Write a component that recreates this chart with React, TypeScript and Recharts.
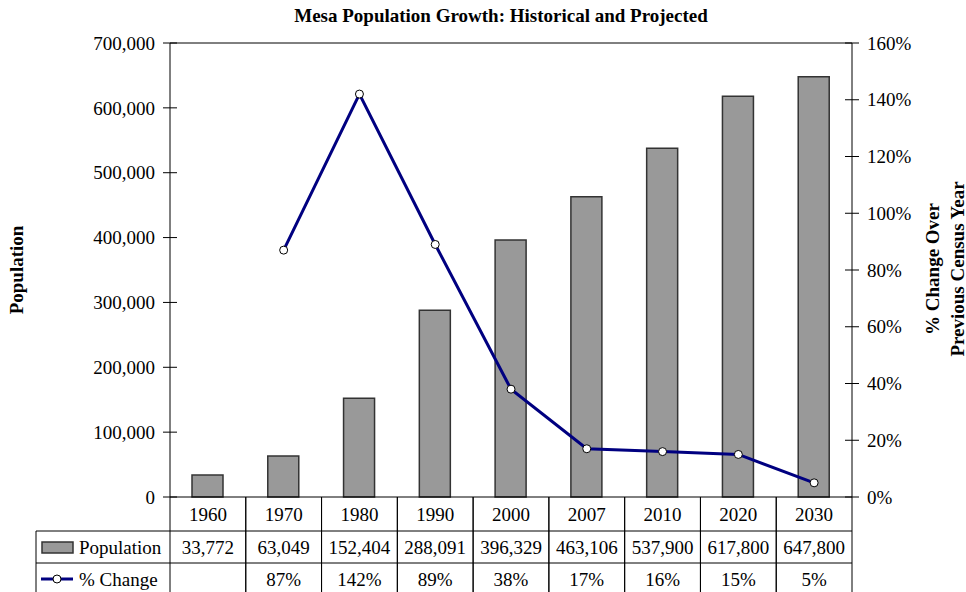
import React from 'react';
import { ComposedChart, Bar, Line, XAxis, YAxis, ReferenceLine } from 'recharts';

const years = ['1960', '1970', '1980', '1990', '2000', '2007', '2010', '2020', '2030'];
const population = [33772, 63049, 152404, 288091, 396329, 463106, 537900, 617800, 647800];
const pctChange: (number | null)[] = [null, 87, 142, 89, 38, 17, 16, 15, 5];
const popTicks = [0, 100000, 200000, 300000, 400000, 500000, 600000, 700000];
const pctTicks = [0, 20, 40, 60, 80, 100, 120, 140, 160];

const data = years.map((year, i) => ({
  year,
  population: population[i],
  change: pctChange[i],
}));

const FONT = '"Liberation Serif", "Times New Roman", serif';
const fmt = new Intl.NumberFormat('en-US');
const svgText: React.CSSProperties = { fontFamily: FONT, fontSize: 19, fill: '#000' };

const LeftTick = ({ x, y, payload }: any) => (
  <g>
    <line x1={x - 7} x2={x + 7} y1={y} y2={y} stroke="#000" />
    <text x={x - 15} y={y} dy="0.35em" textAnchor="end" style={svgText}>
      {fmt.format(payload.value)}
    </text>
  </g>
);

const RightTick = ({ x, y, payload }: any) => (
  <g>
    <line x1={x - 7} x2={x + 7} y1={y} y2={y} stroke="#000" />
    <text x={x + 15} y={y} dy="0.35em" textAnchor="start" style={svgText}>
      {payload.value}%
    </text>
  </g>
);

// data table under the plot, one column per category
const TableTick = ({ x, y, payload }: any) => {
  const i = payload.index;
  const half = payload.offset || 682 / 18;
  const left = x - half;
  const right = x + half;
  const r1 = y + 34;
  const r2 = y + 66;
  const bottom = y + 100;
  const ch = pctChange[i];
  return (
    <g>
      <line x1={left} x2={left} y1={y} y2={bottom} stroke="#000" />
      <line x1={right} x2={right} y1={y} y2={bottom} stroke="#000" />
      <line x1={left} x2={right} y1={r1} y2={r1} stroke="#000" />
      <line x1={left} x2={right} y1={r2} y2={r2} stroke="#000" />
      <text x={x} y={y + 17} dy="0.35em" textAnchor="middle" style={svgText}>{years[i]}</text>
      <text x={x} y={r1 + 16} dy="0.35em" textAnchor="middle" style={svgText}>{fmt.format(population[i])}</text>
      <text x={x} y={r2 + 16} dy="0.35em" textAnchor="middle" style={svgText}>{ch == null ? '' : `${ch}%`}</text>
      {i === 0 && (
        <g>
          <line x1={36} x2={36} y1={r1} y2={bottom} stroke="#000" />
          <line x1={36} x2={left} y1={r1} y2={r1} stroke="#000" />
          <line x1={36} x2={left} y1={r2} y2={r2} stroke="#000" />
          <rect x={42} y={r1 + 11} width={31} height={11} fill="#999999" stroke="#333" strokeWidth={1.5} />
          <text x={79} y={r1 + 16} dy="0.35em" style={svgText}>Population</text>
          <line x1={41} x2={73} y1={r2 + 16} y2={r2 + 16} stroke="#000080" strokeWidth={3} />
          <circle cx={57} cy={r2 + 16} r={4} fill="#fff" stroke="#000" />
          <text x={79} y={r2 + 16} dy="0.35em" style={svgText}>% Change</text>
        </g>
      )}
    </g>
  );
};

const ChangeDot = (props: any) => {
  const { cx, cy, value, index } = props;
  if (value == null || cy == null) return <g key={index} />;
  return <circle key={index} cx={cx} cy={cy} r={4} fill="#fff" stroke="#000" strokeWidth={1} />;
};

const labelStyle: React.CSSProperties = {
  position: 'absolute',
  fontFamily: FONT,
  fontWeight: 'bold',
  fontSize: 19,
  color: '#000',
  whiteSpace: 'nowrap',
};

export default function App() {
  return (
    <div style={{ position: 'relative', width: 966, height: 592, background: '#fff', overflow: 'hidden' }}>
      <style>{`body{margin:0}`}</style>
      <div style={{ ...labelStyle, left: 0, width: 1002, top: 5, textAlign: 'center' }}>
        Mesa Population Growth: Historical and Projected
      </div>
      <div style={{ ...labelStyle, left: 17, top: 270, transform: 'translate(-50%, -50%) rotate(-90deg)' }}>
        Population
      </div>
      <div
        style={{
          ...labelStyle,
          left: 945,
          top: 269,
          textAlign: 'center',
          lineHeight: '25px',
          transform: 'translate(-50%, -50%) rotate(-90deg)',
        }}
      >
        % Change Over
        <br />
        Previous Census Year
      </div>
      <ComposedChart
        width={966}
        height={592}
        data={data}
        margin={{ top: 43, right: 0, bottom: 0, left: 0 }}
        style={{ position: 'absolute', left: 0, top: 0 }}
      >
        <XAxis
          dataKey="year"
          height={95}
          interval={0}
          tickLine={false}
          tickSize={0}
          tickMargin={0}
          axisLine={{ stroke: '#000' }}
          tick={<TableTick />}
        />
        <YAxis
          yAxisId="left"
          width={170}
          domain={[0, 700000]}
          ticks={popTicks}
          tickLine={false}
          tickSize={0}
          tickMargin={0}
          axisLine={{ stroke: '#000' }}
          tick={<LeftTick />}
        />
        <YAxis
          yAxisId="right"
          orientation="right"
          width={114}
          domain={[0, 160]}
          ticks={pctTicks}
          tickLine={false}
          tickSize={0}
          tickMargin={0}
          axisLine={{ stroke: '#000' }}
          tick={<RightTick />}
        />
        <ReferenceLine yAxisId="left" y={700000} stroke="#000" />
        <Bar
          yAxisId="left"
          dataKey="population"
          barSize={31}
          fill="#999999"
          stroke="#333"
          strokeWidth={1.5}
          isAnimationActive={false}
        />
        <Line
          yAxisId="right"
          dataKey="change"
          stroke="#000080"
          strokeWidth={3}
          dot={ChangeDot}
          activeDot={false}
          isAnimationActive={false}
        />
      </ComposedChart>
    </div>
  );
}
